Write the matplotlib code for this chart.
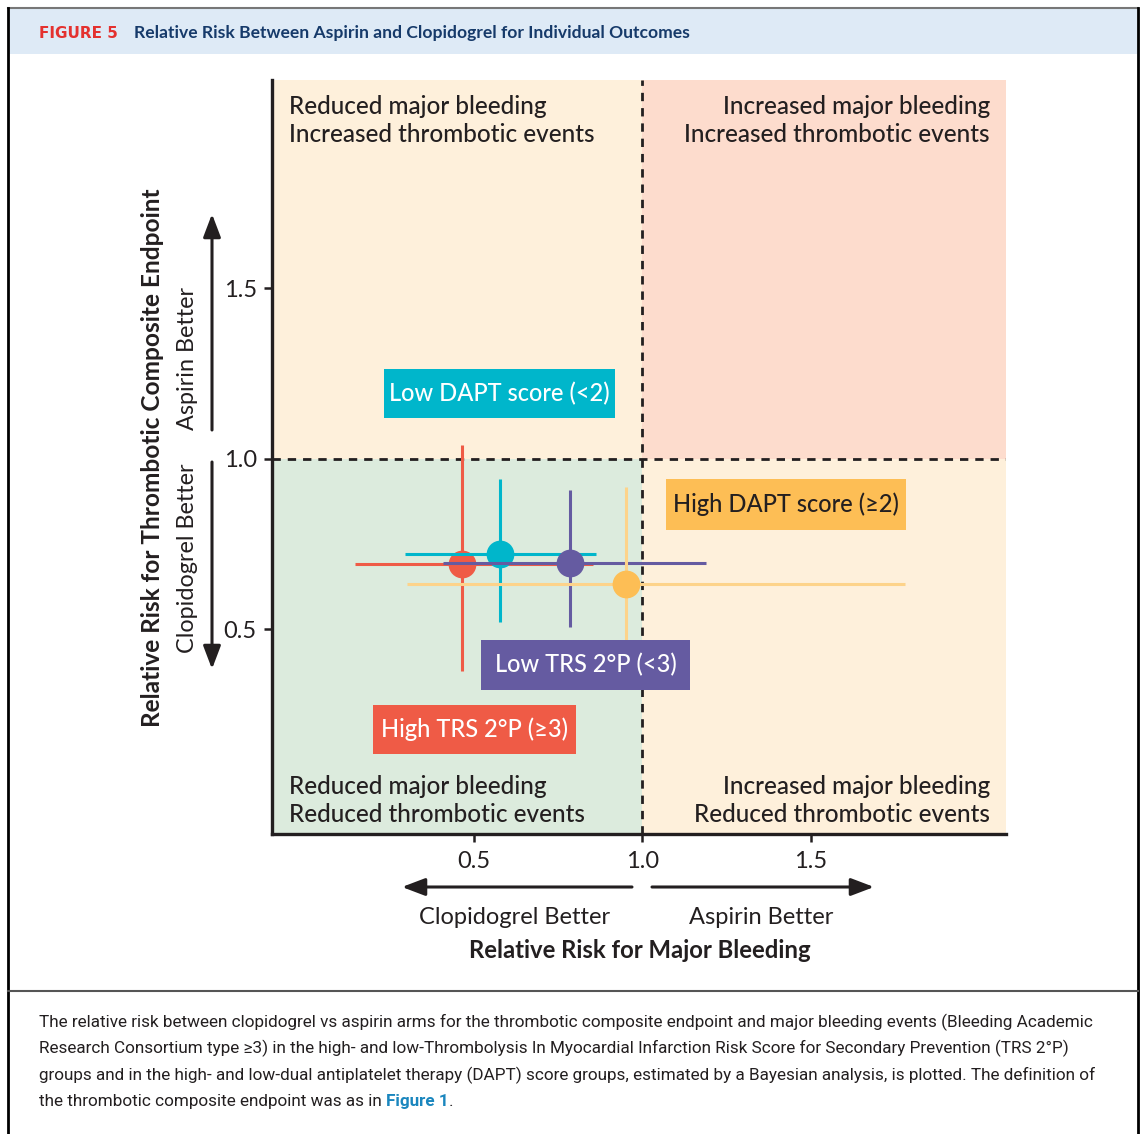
import matplotlib
matplotlib.use("Agg")
import matplotlib.pyplot as plt
from matplotlib.patches import Rectangle, FancyArrowPatch
from matplotlib.lines import Line2D
from matplotlib import font_manager

W, H = 1142, 1134

# relative risk estimates (clopidogrel vs aspirin) with credible intervals
groups = ["High TRS 2°P (≥3)", "Low DAPT score (<2)", "Low TRS 2°P (<3)", "High DAPT score (≥2)"]
rr_bleed = [0.464, 0.577, 0.786, 0.952]
bleed_lo = [0.146, 0.295, 0.408, 0.300]
bleed_hi = [0.854, 0.863, 1.190, 1.780]
rr_thromb = [0.692, 0.721, 0.695, 0.633]
thromb_lo = [0.378, 0.522, 0.507, 0.450]
thromb_hi = [1.041, 0.941, 0.909, 0.918]
dot_colors = ["#EF5B46", "#00B6CB", "#655BA1", "#FDBE55"]
bar_colors = ["#EF5B46", "#00B6CB", "#655BA1", "#FDD38A"]
label_text_colors = ["white", "white", "white", "#231F20"]

ticks = [0.5, 1.0, 1.5]
tick_labels = ["0.5", "1.0", "1.5"]
xlim = (-0.10, 2.08)
ylim = (-0.10, 2.11)

caption = [
    "The relative risk between clopidogrel vs aspirin arms for the thrombotic composite endpoint and major bleeding events (Bleeding Academic",
    "Research Consortium type ≥3) in the high- and low-Thrombolysis In Myocardial Infarction Risk Score for Secondary Prevention (TRS 2°P)",
    "groups and in the high- and low-dual antiplatelet therapy (DAPT) score groups, estimated by a Bayesian analysis, is plotted. The definition of",
    "the thrombotic composite endpoint was as in ",
]

installed = {f.name for f in font_manager.fontManager.ttflist}
FONT = "Lato"
NARROW = "Liberation Sans Narrow" if "Liberation Sans Narrow" in installed else "Roboto"
plt.rcParams["font.family"] = [FONT, "DejaVu Sans"]
DARK = "#231F20"


def fx(x):
    return x / W


def fy(y):
    return 1 - y / H


def hline(x0, x1, y, **kw):
    fig.add_artist(Line2D([fx(x0), fx(x1)], [fy(y), fy(y)], transform=fig.transFigure, **kw))


def vline(x, y0, y1, **kw):
    fig.add_artist(Line2D([fx(x), fx(x)], [fy(y0), fy(y1)], transform=fig.transFigure, **kw))


def arrow(x0, y0, x1, y1):
    fig.add_artist(FancyArrowPatch((fx(x0), fy(y0)), (fx(x1), fy(y1)), transform=fig.transFigure,
                                   arrowstyle="-|>,head_length=1.0,head_width=0.38", mutation_scale=14,
                                   lw=2.2, color=DARK, shrinkA=0, shrinkB=0))


fig = plt.figure(figsize=(W / 100, H / 100), dpi=100)

# header band and frame
fig.add_artist(Rectangle((fx(9), fy(54)), fx(1137) - fx(9), fy(9) - fy(54), transform=fig.transFigure,
                         facecolor="#DEEAF6", edgecolor="none"))
hline(8, 1138, 8, color="#777777", lw=1.5)
vline(8, 8, 1134, color="black", lw=2)
vline(1138, 8, 1134, color="black", lw=2)
hline(8, 1138, 991, color="#555555", lw=1.5)
fig.text(fx(39), fy(33), "FIGURE 5", color="#E4312F", fontsize=11, fontweight="bold", va="center",
         family="DejaVu Sans")
fig.text(fx(134), fy(33), "Relative Risk Between Aspirin and Clopidogrel for Individual Outcomes",
         color="#163A6A", fontsize=12.6, fontweight="bold", va="center")

ax = fig.add_axes([fx(272), fy(834), fx(1006) - fx(272), fy(80) - fy(834)])
ax.set_xlim(*xlim)
ax.set_ylim(*ylim)

# quadrant shading around the RR = 1 lines
quads = [
    (xlim[0], 1.0, 1.0 - xlim[0], ylim[1] - 1.0, "#FEF0DB"),
    (1.0, 1.0, xlim[1] - 1.0, ylim[1] - 1.0, "#FDDCCD"),
    (xlim[0], ylim[0], 1.0 - xlim[0], 1.0 - ylim[0], "#DCEBDD"),
    (1.0, ylim[0], xlim[1] - 1.0, 1.0 - ylim[0], "#FEF0DB"),
]
for x0, y0, w, h, c in quads:
    ax.add_patch(Rectangle((x0, y0), w, h, facecolor=c, edgecolor="none", zorder=0))

ax.axhline(1.0, color=DARK, lw=2, ls=(0, (3, 2.5)), zorder=1)
ax.axvline(1.0, color=DARK, lw=2, ls=(0, (3, 2.5)), zorder=1)

for i in range(len(groups)):
    ax.errorbar([rr_bleed[i]], [rr_thromb[i]],
                xerr=[[rr_bleed[i] - bleed_lo[i]], [bleed_hi[i] - rr_bleed[i]]],
                yerr=[[rr_thromb[i] - thromb_lo[i]], [thromb_hi[i] - rr_thromb[i]]],
                fmt="none", ecolor=bar_colors[i], elinewidth=2.2, capsize=0, zorder=2 + i)
    ax.plot(rr_bleed[i], rr_thromb[i], "o", ms=20, color=dot_colors[i], mec="none", zorder=2 + i)

for s in ["top", "right"]:
    ax.spines[s].set_visible(False)
for s in ["left", "bottom"]:
    ax.spines[s].set_linewidth(2.4)
    ax.spines[s].set_color(DARK)
ax.set_xticks(ticks)
ax.set_xticklabels(tick_labels)
ax.set_yticks(ticks)
ax.set_yticklabels(tick_labels)
ax.tick_params(axis="both", length=6, width=1.8, color=DARK, labelsize=17, labelcolor=DARK)
ax.tick_params(axis="x", pad=6)
ax.tick_params(axis="y", pad=5)

# quadrant captions
qkw = dict(fontsize=17.5, color=DARK, va="center", fontweight="medium")
fig.text(fx(289), fy(106), "Reduced major bleeding", ha="left", **qkw)
fig.text(fx(289), fy(135), "Increased thrombotic events", ha="left", **qkw)
fig.text(fx(990), fy(106), "Increased major bleeding", ha="right", **qkw)
fig.text(fx(990), fy(135), "Increased thrombotic events", ha="right", **qkw)
fig.text(fx(289), fy(786), "Reduced major bleeding", ha="left", **qkw)
fig.text(fx(289), fy(814), "Reduced thrombotic events", ha="left", **qkw)
fig.text(fx(990), fy(786), "Increased major bleeding", ha="right", **qkw)
fig.text(fx(990), fy(814), "Reduced thrombotic events", ha="right", **qkw)

# group label boxes
boxes = [(373, 705, 576, 754), (384, 369, 615, 418), (481, 640, 690, 690), (666, 479, 906, 530)]
for (x0, y0, x1, y1), name, c, tc in zip(boxes, groups, dot_colors, label_text_colors):
    fig.add_artist(Rectangle((fx(x0), fy(y1)), fx(x1) - fx(x0), fy(y0) - fy(y1), transform=fig.transFigure,
                             facecolor=c, edgecolor="none", zorder=10))
    fig.text(fx((x0 + x1) / 2), fy((y0 + y1) / 2), name, color=tc, fontsize=17, ha="center", va="center",
             zorder=11, fontweight="medium", family=[FONT, "DejaVu Sans"])

# axis titles and direction arrows
fig.text(fx(153), fy(458), "Relative Risk for Thrombotic Composite Endpoint", rotation=90, fontsize=17.6,
         fontweight="bold", color=DARK, ha="center", va="center")
fig.text(fx(187), fy(358), "Aspirin Better", rotation=90, fontsize=16.8, color=DARK, ha="center", va="center")
fig.text(fx(187), fy(558), "Clopidogrel Better", rotation=90, fontsize=16.8, color=DARK, ha="center", va="center")
arrow(212, 430, 212, 214)
arrow(212, 462, 212, 669)

fig.text(fx(515), fy(917), "Clopidogrel Better", fontsize=17, color=DARK, ha="center", va="center")
fig.text(fx(761), fy(917), "Aspirin Better", fontsize=17, color=DARK, ha="center", va="center")
fig.text(fx(640), fy(950), "Relative Risk for Major Bleeding", fontsize=17.2, fontweight="bold", color=DARK,
         ha="center", va="center")
arrow(632, 887, 402, 887)
arrow(652, 887, 874, 887)

# caption
CS = 12.3
ckw = dict(fontsize=CS, color=DARK, va="center", family=[NARROW, "DejaVu Sans"])
for k, line in enumerate(caption):
    t = fig.text(fx(39), fy(1022 + 26.6 * k), line, **ckw)
r = fig.canvas.get_renderer()
bb = t.get_window_extent(r)
t2 = fig.text(bb.x1 / W, fy(1022 + 26.6 * 3), "Figure 1", fontsize=CS, color="#1A86BE", fontweight="bold",
              va="center", family=[NARROW, "DejaVu Sans"])
bb2 = t2.get_window_extent(r)
fig.text(bb2.x1 / W, fy(1022 + 26.6 * 3), ".", **ckw)

fig.savefig("out.png", dpi=100)
